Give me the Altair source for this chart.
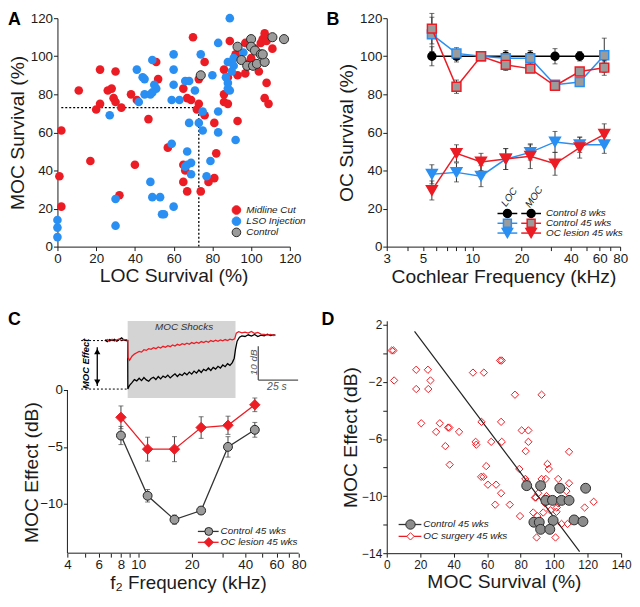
import altair as alt
import pandas as pd

RED = "#ec1c24"
BLUE = "#2a8ff2"
GRAY = "#9b9b9b"
INK = "#1b1b1b"
FONT = "Liberation Sans"

# ---------------- Panel A: LOC vs MOC survival ----------------
a_mid_loc = [70, 22, 30, 51, 52, 11, 26, 28, 29, 30, 22, 20, 33, 38, 41, 47, 2, 1, 2, 17, 40, 32, 57, 65, 67,
             69, 73, 72, 76, 76, 73, 65, 66, 65, 67, 74, 78, 81, 82, 81, 86, 86, 88, 86, 89, 92, 93, 93, 97, 98,
             97, 104, 108, 107, 109, 111, 106, 107, 105, 108, 102, 100, 88]
a_mid_moc = [110, 93, 92, 97, 88, 82, 82, 83, 78, 76, 75, 72, 73, 80, 77, 67, 61, 37, 21, 45, 43, 27, 52, 83, 78,
             77, 75, 72, 69, 97, 88, 43, 40, 34, 29, 29, 34, 36, 49, 65, 80, 76, 75, 93, 108, 101, 90, 66, 91, 96,
             107, 92, 86, 78, 75, 104, 109, 112, 107, 108, 104, 99, 89]
a_lso_loc = [89, 83, 74, 60, 49, 41, 44, 45, 50, 51, 49, 45, 48, 42, 27, 60, 60, 59, 63, 66, 68, 71, 75, 73, 68,
             75, 59, 67, 69, 67, 66, 69, 77, 79, 83, 83, 80, 87, 88, 88, 89, 88, 91, 91, 92, 48, 49, 53, 54, 55,
             60, 30, 30, 0, 0, 0, 96, 90]
a_lso_moc = [120, 107, 101, 101, 98, 93, 89, 88, 85, 83, 81, 80, 80, 76, 69, 93, 85, 77, 77, 87, 87, 82, 71, 65, 65,
             61, 54, 50, 44, 43, 42, 38, 37, 45, 60, 71, 90, 89, 86, 83, 82, 97, 95, 99, 56, 34, 26, 26, 17, 17,
             21, 25, 11, 14, 10, 5, 102, 92]
a_ctl_loc = [74, 93, 100, 100, 102, 105, 95, 98, 101, 103, 107, 111, 117, 106]
a_ctl_moc = [90, 105, 109, 105, 103, 101, 98, 95, 95, 96, 97, 110, 109, 101]
a_mean_loc = 73
a_mean_moc = 73
a_legend = ["Midline Cut", "LSO Injection", "Control"]

# ---------------- Panel B: OC survival vs cochlear frequency ----------------
b_freq = [5.66, 8, 11.3, 16, 22.6, 32, 45.3, 64]
b_ctl8 = [100, 100, 100, 100, 100, 100, 100, 100]
b_ctl8_err = [5, 3, 2, 3, 3, 4, 2.5, 3]
b_c45_loc = [111.5, 101.5, 100, 99, 99, 85, 86.5, 100.5]
b_c45_loc_err = [9, 3, 2, 3, 3, 2, 2, 9]
b_c45_moc = [114.5, 84, 100, 95.5, 93.5, 84.5, 92, 94]
b_c45_moc_err = [8, 3.5, 2, 3, 2, 2.5, 2, 4]
b_les_loc = [38, 39, 37, 46, 49.5, 55, 53.5, 53.5]
b_les_loc_err = [5, 5, 5.5, 5.5, 4, 5.5, 4, 4.5]
b_les_moc = [29.5, 49, 44.5, 46, 47.5, 43.5, 52, 59]
b_les_moc_err = [5, 4.5, 4.5, 5.5, 6.5, 6, 5.5, 5.5]
b_legend = ["Control 8 wks", "Control 45 wks", "OC lesion 45 wks"]

# ---------------- Panel C: MOC effect vs f2 ----------------
c_freq = [8, 11.3, 16, 22.6, 32, 45.3]
c_ctl = [-4.0, -9.3, -11.4, -10.6, -5.0, -3.5]
c_ctl_err = [0.8, 0.55, 0.4, 0.3, 0.9, 0.65]
c_les = [-2.4, -5.2, -5.2, -3.3, -3.1, -1.3]
c_les_err = [1.0, 1.05, 1.1, 0.95, 0.8, 0.6]
c_legend = ["Control 45 wks", "OC lesion 45 wks"]

# inset traces (time in s, level in dB re pre-shock baseline)
tr_black_t = [0, 1.5, 3, 4.5, 6, 7.5, 9, 10.5, 12, 13.5, 14.3, 14.4, 15.5, 17, 18.5, 20, 21.5, 23, 24.5, 26, 27.5,
              29, 30.5, 32, 33.5, 35, 36.5, 38, 39.5, 41, 42.5, 44, 45.5, 47, 48.5, 50, 51.5, 53, 54.5, 56, 57.5,
              59, 60.5, 62, 63.5, 65, 66.5, 68, 69.5, 71, 72.5, 74, 75.5, 77, 78.5, 80, 81.2, 82, 83, 84.5, 86,
              88, 90, 92, 94, 96, 98, 100, 102, 104, 106, 107]
tr_black_db = [0.2, -0.3, 0.3, 0, 0.4, -0.2, 0.3, 0.8, 0.1, 0.2, 0, -14.3, -13.2, -12.4, -11.5, -11.9, -11.1, -11.8,
               -10.9, -11.6, -12.0, -11.2, -10.8, -11.5, -10.6, -11.3, -10.5, -10.9, -10.2, -11.0, -10.4, -9.8,
               -10.6, -9.9, -10.3, -9.5, -10.1, -9.3, -9.9, -9.0, -9.6, -8.7, -9.4, -8.5, -8.9, -8.1, -8.8, -7.9,
               -8.4, -7.6, -8.1, -7.2, -7.7, -6.8, -7.3, -6.5, -5.2, -2.5, -0.2, 1.0, 1.4, 1.2, 1.7, 1.3, 1.8, 1.2,
               1.6, 1.4, 1.9, 1.5, 1.7, 1.6]
tr_red_t = [0, 1.5, 3, 4.5, 6, 7.5, 9, 10.5, 12, 13.5, 14.3, 14.5, 15.5, 17, 18.5, 20, 21.5, 23, 24.5, 26, 27.5, 29,
            30.5, 32, 33.5, 35, 36.5, 38, 39.5, 41, 42.5, 44, 45.5, 47, 48.5, 50, 51.5, 53, 54.5, 56, 57.5, 59,
            60.5, 62, 63.5, 65, 66.5, 68, 69.5, 71, 72.5, 74, 75.5, 77, 78.5, 80, 81.5, 82.5, 84, 86, 88, 90, 92,
            94, 96, 98, 100, 102, 104, 106, 107]
tr_red_db = [0, 0.3, -0.2, 0.4, -0.1, 0.2, 0.5, 0, 0.3, -0.1, 0, -5.0, -5.8, -4.6, -4.0, -3.6, -3.2, -3.4, -2.7,
             -2.9, -2.4, -2.6, -2.1, -2.4, -1.9, -2.2, -1.7, -2.0, -1.5, -1.8, -1.3, -1.6, -1.1, -1.4, -0.9, -1.2,
             -0.8, -1.1, -0.6, -0.9, -0.5, -0.8, -0.3, -0.6, -0.2, -0.5, 0, -0.3, 0.1, -0.2, 0.2, -0.1, 0.3, 0,
             0.4, 0.2, 0.5, 2.2, 2.6, 2.3, 2.5, 2.2, 2.7, 2.1, 2.4, 1.9, 1.8, 1.6, 1.8, 1.5, 1.6]
shock_on, shock_off = 14.3, 82.0
moc_effect_db = -14.3
scale_db, scale_s = 10, 25

# ---------------- Panel D: MOC effect vs MOC survival ----------------
d_surg_x = [3, 4, 4.4, 17.6, 24.6, 26.1, 17.6, 24.8, 20.6, 31.7, 29.5, 36.6, 37.4, 43.2, 35, 37.6, 51.5, 58, 67.7,
            68.7, 53.1, 53.5, 56.6, 68.3, 62.4, 68.7, 59.4, 56.4, 57.8, 60.4, 65.3, 68.3, 64.8, 73.5, 76.6, 92.5,
            80.6, 84.6, 84.6, 83, 79.2, 82.8, 83.6, 79.6, 88.5, 89.1, 90.5, 92.5, 95, 96, 96.8, 102.4, 108.9,
            108.9, 87.5, 89.9, 93.5, 97.8, 101.6, 102.4, 104.9, 101.4, 104.4, 108, 89.5, 100.8, 118.2, 123.6,
            95.4, 94.5, 107.3]
d_surg_y = [0.2, 0.2, -1.9, -1.15, -1.15, -1.9, -2.5, -2.5, -4.9, -4.9, -5.5, -5.2, -5.2, -5.5, -6.5, -7.8,
            -1.35, -1.35, -0.5, -0.5, -6.2, -6.4, -4.8, -4.8, -6.2, -6.2, -7.9, -8.65, -8.65, -9.2, -9.2, -9.8,
            -10.6, -10.6, -2.9, -2.9, -5.4, -5.4, -6.2, -6.85, -8.1, -8.8, -9.0, -11.4, -10.1, -10.1, -9.8, -8.8,
            -8.8, -7.75, -8.1, -8.8, -9.1, -6.9, -11.15, -11.4, -11.15, -11.0, -10.8, -10.5, -10.35, -11.1,
            -11.95, -11.95, -12.9, -12.9, -10.8, -10.4, -10.0, -10.5, -9.65]
d_ctl_x = [83.6, 91.9, 103.4, 118.8, 95, 99, 104.4, 108.9, 87.9, 91.1, 99.4, 111.9, 117.2, 91.9, 97.4]
d_ctl_y = [-9.27, -9.27, -9.45, -9.45, -10.3, -10.3, -10.3, -10.3, -11.83, -11.83, -11.71, -11.67, -11.78,
           -12.33, -12.33]
d_fit_x = [16.6, 115.2]
d_fit_y = [1.54, -13.89]
d_legend = ["Control 45 wks", "OC surgery 45 wks"]

ONE = pd.DataFrame({"k": [0]})


def label(text, x, y, size=10, style="italic", weight="normal", color=INK, angle=None, align="left",
          baseline="middle"):
    kw = dict(text=text, fontSize=size, fontStyle=style, fontWeight=weight, color=color, align=align,
              baseline=baseline, font=FONT)
    if angle is not None:
        kw["angle"] = angle
    return alt.Chart(ONE).mark_text(**kw).encode(x=alt.value(x), y=alt.value(y))


def seg(x1, x2, y, color, width=1.5):
    return alt.Chart(ONE).mark_rule(color=color, strokeWidth=width).encode(
        x=alt.value(x1), x2=alt.value(x2), y=alt.value(y))


def sym(x, y, shape, size, fill, stroke, sw=1.0):
    return alt.Chart(ONE).mark_point(shape=shape, size=size, filled=True, fill=fill, stroke=stroke,
                                     strokeWidth=sw, opacity=1).encode(x=alt.value(x), y=alt.value(y))


def letter(ch, x, y):
    return label(ch, x, y, size=18, style="normal", weight="bold", color="black", baseline="top")


def err_df(f, v, e):
    return pd.DataFrame({"f": f, "v": v, "lo": [a - b for a, b in zip(v, e)], "hi": [a + b for a, b in zip(v, e)]})


# ======================= Panel A =======================
sA = alt.Scale(domain=[0, 120], nice=False, zero=False)
axAx = alt.Axis(values=list(range(0, 121, 20)), title="LOC Survival (%)", titlePadding=2)
axAy = alt.Axis(values=list(range(0, 121, 20)), title="MOC Survival (%)", titleX=-34, titleBaseline="alphabetic")


def AX(f):
    return alt.X(f, type="quantitative", scale=sA, axis=axAx)


def AY(f):
    return alt.Y(f, type="quantitative", scale=sA, axis=axAy)


thrA = pd.DataFrame({"x0": [2], "y0": [0], "m": [a_mean_loc], "n": [a_mean_moc]})
A_layers = [
    alt.Chart(thrA).mark_rule(color="black", strokeDash=[2, 2], strokeWidth=1.3).encode(
        x=AX("x0"), x2="m", y=AY("n")),
    alt.Chart(thrA).mark_rule(color="black", strokeDash=[2, 2], strokeWidth=1.3).encode(
        x=AX("m"), y=AY("y0"), y2="n"),
    alt.Chart(pd.DataFrame({"x": a_mid_loc, "y": a_mid_moc})).mark_circle(size=76, color=RED, opacity=1).encode(
        x=AX("x"), y=AY("y")),
    alt.Chart(pd.DataFrame({"x": a_lso_loc, "y": a_lso_moc})).mark_circle(size=76, color=BLUE, opacity=1).encode(
        x=AX("x"), y=AY("y")),
    alt.Chart(pd.DataFrame({"x": a_ctl_loc, "y": a_ctl_moc})).mark_point(
        shape="circle", size=85, filled=True, fill=GRAY, stroke="#2a2a2a", strokeWidth=1, opacity=1).encode(
        x=AX("x"), y=AY("y")),
]
legA = [(RED, None), (BLUE, None), (GRAY, "#2a2a2a")]
for i, (txt, (fc, sc)) in enumerate(zip(a_legend, legA)):
    y = 194 + i * 11.3
    A_layers.append(sym(181, y, "circle", 76, fc, sc if sc else fc, 1))
    A_layers.append(label(txt, 191, y))
A_layers.append(letter("A", -50, -7))
A = alt.layer(*A_layers).properties(width=235, height=231)

# ======================= Panel B =======================
sBx = alt.Scale(type="log", domain=[3, 80], nice=False)
sBy = alt.Scale(domain=[0, 120], nice=False, zero=False)
axBx = alt.Axis(values=[3, 4, 5, 6, 7, 8, 9, 10, 20, 30, 40, 50, 60, 70, 80],
                labelExpr="indexof([3,5,10,20,40,60,80], datum.value) >= 0 ? format(datum.value, 'd') : ''",
                title="Cochlear Frequency (kHz)", titlePadding=3)
axBy = alt.Axis(values=list(range(0, 121, 20)), title="OC Survival (%)", titleX=-35, titleBaseline="alphabetic")


def BX(f):
    return alt.X(f, type="quantitative", scale=sBx, axis=axBx)


def BY(f):
    return alt.Y(f, type="quantitative", scale=sBy, axis=axBy)


b_series = [
    (b_ctl8, b_ctl8_err, "black", "circle", 64, "black", "black"),
    (b_c45_loc, b_c45_loc_err, BLUE, "square", 81, GRAY, BLUE),
    (b_c45_moc, b_c45_moc_err, RED, "square", 81, GRAY, RED),
    (b_les_loc, b_les_loc_err, BLUE, "triangle-down", 120, BLUE, BLUE),
    (b_les_moc, b_les_moc_err, RED, "triangle-down", 120, RED, RED),
]
B_layers = []
for v, e, lc, shp, sz, fc, sc in b_series:
    d = err_df(b_freq, v, e)
    B_layers.append(alt.Chart(d).mark_rule(color="#333333", strokeWidth=1).encode(x=BX("f"), y=BY("lo"), y2="hi"))
    for col in ("lo", "hi"):
        B_layers.append(alt.Chart(d).mark_tick(color="#333333", orient="horizontal", size=5, thickness=1).encode(
            x=BX("f"), y=BY(col)))
for v, e, lc, shp, sz, fc, sc in b_series:
    d = err_df(b_freq, v, e)
    B_layers.append(alt.Chart(d).mark_line(color=lc, strokeWidth=1.5).encode(x=BX("f"), y=BY("v")))
    B_layers.append(alt.Chart(d).mark_point(shape=shp, size=sz, filled=True, fill=fc, stroke=sc,
                                            strokeWidth=1.5, opacity=1).encode(x=BX("f"), y=BY("v")))
legB = [("black", "circle", 64, "black", "black", "black", "circle", 64, "black", "black"),
        (BLUE, "square", 64, GRAY, BLUE, RED, "square", 64, GRAY, RED),
        (BLUE, "triangle-down", 110, BLUE, BLUE, RED, "triangle-down", 110, RED, RED)]
for i, (txt, row) in enumerate(zip(b_legend, legB)):
    y = 197.5 + i * 9.9
    lc1, s1, z1, f1, k1, lc2, s2, z2, f2, k2 = row
    B_layers += [seg(112, 132, y, lc1), seg(136, 156, y, lc2),
                 sym(122, y, s1, z1, f1, k1, 1.5), sym(146, y, s2, z2, f2, k2, 1.5),
                 label(txt, 161, y)]
B_layers += [label("LOC", 124, 181, angle=305, align="center"), label("MOC", 149, 181, angle=305, align="center")]
B_layers.append(letter("B", -61, -7))
B = alt.layer(*B_layers).properties(width=236, height=231)

# ======================= Panel C =======================
C_XDOM = [3.515, 80]
C_YDOM = [-14.35, 6.09]
sCx = alt.Scale(type="log", domain=C_XDOM, nice=False)
sCy = alt.Scale(domain=C_YDOM, nice=False, zero=False)
axCx = alt.Axis(values=[4, 5, 6, 7, 8, 9, 10, 20, 30, 40, 50, 60, 70, 80], domain=False,
                labelExpr="indexof([4,6,8,10,20,40,60,80], datum.value) >= 0 ? format(datum.value, 'd') : ''",
                title="f\u2082 Frequency (kHz)", titlePadding=2, titleX=132, titleFontSize=19)
axCy = alt.Axis(values=[0, -5, -10], domain=False, offset=-10, title="MOC Effect (dB)", titleX=-30, titleY=153,
                titleBaseline="alphabetic")


def CX(f):
    return alt.X(f, type="quantitative", scale=sCx, axis=axCx)


def CY(f):
    return alt.Y(f, type="quantitative", scale=sCy, axis=axCy)


axis_lines = pd.DataFrame({"x0": [4], "x1": [80], "y0": [0], "y1": [C_YDOM[0]]})
C_main = [
    alt.Chart(axis_lines).mark_rule(color=INK, strokeWidth=1).encode(x=CX("x0"), y=CY("y0"), y2="y1"),
    alt.Chart(axis_lines).mark_rule(color=INK, strokeWidth=1).encode(x=CX("x0"), x2="x1", y=CY("y1")),
]
c_series = [(c_ctl, c_ctl_err, "#333333", "circle", 81, GRAY, "#222222"),
            (c_les, c_les_err, RED, "diamond", 110, RED, RED)]
for v, e, lc, shp, sz, fc, sc in c_series:
    d = err_df(c_freq, v, e)
    C_main.append(alt.Chart(d).mark_rule(color="#444444", strokeWidth=1).encode(x=CX("f"), y=CY("lo"), y2="hi"))
    for col in ("lo", "hi"):
        C_main.append(alt.Chart(d).mark_tick(color="#444444", orient="horizontal", size=5, thickness=1).encode(
            x=CX("f"), y=CY(col)))
for v, e, lc, shp, sz, fc, sc in c_series:
    d = err_df(c_freq, v, e)
    C_main.append(alt.Chart(d).mark_line(color=lc, strokeWidth=1.3).encode(x=CX("f"), y=CY("v")))
    C_main.append(alt.Chart(d).mark_point(shape=shp, size=sz, filled=True, fill=fc, stroke=sc, strokeWidth=1,
                                          opacity=1).encode(x=CX("f"), y=CY("v")))
for i, (txt, (v, e, lc, shp, sz, fc, sc)) in enumerate(zip(c_legend, c_series)):
    y = 213 + i * 11
    C_main += [seg(142, 163, y, lc, 1.3), sym(153, y, shp, 64 if shp == "circle" else 90, fc, sc, 1),
               label(txt, 165, y)]
C_main.append(letter("C", -50, -10))

I_TDOM = [-29.8, 121.7]
I_DBDOM = [-62.68, 5.83]
sIx = alt.Scale(domain=I_TDOM, nice=False, zero=False)
sIy = alt.Scale(domain=I_DBDOM, nice=False, zero=False)


def IX(f):
    return alt.X(f, type="quantitative", scale=sIx, axis=None)


def IY(f):
    return alt.Y(f, type="quantitative", scale=sIy, axis=None)


shock = pd.DataFrame({"t0": [shock_on], "t1": [shock_off], "d0": [-16.9], "d1": [5.8]})
dots = pd.DataFrame({"t0": [-14.9, -14.9], "t1": [shock_on, shock_on], "d": [0, moc_effect_db]})
arrow = pd.DataFrame({"t": [-4.8], "d0": [-2.0], "d1": [-13.4]})
heads = pd.DataFrame({"t": [-4.8, -4.8], "d": [-3.2, -12.3], "s": ["triangle-up", "triangle-down"]})
sb_t, sb_d = 96.3, -11.66
scalebar = pd.DataFrame({"t0": [sb_t, sb_t], "t1": [sb_t, sb_t + scale_s], "d0": [sb_d, sb_d],
                         "d1": [sb_d + scale_db, sb_d]})
C_inset = [
    alt.Chart(shock).mark_rect(color="#d4d4d4").encode(x=IX("t0"), x2="t1", y=IY("d0"), y2="d1"),
    alt.Chart(pd.DataFrame({"t": tr_black_t, "d": tr_black_db})).mark_line(color="black", strokeWidth=1.3).encode(
        x=IX("t"), y=IY("d")),
    alt.Chart(pd.DataFrame({"t": tr_red_t, "d": tr_red_db})).mark_line(color=RED, strokeWidth=1.3).encode(
        x=IX("t"), y=IY("d")),
    alt.Chart(dots).mark_rule(color="black", strokeDash=[2, 2], strokeWidth=1).encode(
        x=IX("t0"), x2="t1", y=IY("d")),
    alt.Chart(arrow).mark_rule(color="black", strokeWidth=1.3).encode(x=IX("t"), y=IY("d0"), y2="d1"),
    alt.Chart(heads).mark_point(filled=True, color="black", size=40, opacity=1).encode(
        x=IX("t"), y=IY("d"), shape=alt.Shape("s:N", scale=None, legend=None)),
    alt.Chart(scalebar).mark_rule(color="#555555", strokeWidth=1.3).encode(
        x=IX("t0"), x2="t1", y=IY("d0"), y2="d1"),
    alt.Chart(pd.DataFrame({"t": [49.7], "d": [4.1], "s": ["MOC Shocks"]})).mark_text(
        fontSize=10, fontStyle="italic", color="#333333", font=FONT).encode(x=IX("t"), y=IY("d"), text="s:N"),
    alt.Chart(pd.DataFrame({"t": [-11.6], "d": [-6.85], "s": ["MOC Effect"]})).mark_text(
        fontSize=9.5, fontStyle="italic", fontWeight="bold", angle=270, color="black", font=FONT).encode(
        x=IX("t"), y=IY("d"), text="s:N"),
    alt.Chart(pd.DataFrame({"t": [93.5], "d": [-6.4], "s": ["%d dB" % scale_db]})).mark_text(
        fontSize=10, fontStyle="italic", angle=270, color="#555555", font=FONT).encode(
        x=IX("t"), y=IY("d"), text="s:N"),
    alt.Chart(pd.DataFrame({"t": [108], "d": [-13.7], "s": ["%d s" % scale_s]})).mark_text(
        fontSize=10.5, fontStyle="italic", color="#555555", font=FONT).encode(x=IX("t"), y=IY("d"), text="s:N"),
]
C = alt.layer(alt.layer(*C_main), alt.layer(*C_inset)).resolve_scale(
    x="independent", y="independent").properties(width=244, height=235)

# ======================= Panel D =======================
sDx = alt.Scale(domain=[0, 140], nice=False, zero=False)
sDy = alt.Scale(domain=[-14, 2.28], nice=False, zero=False)
axDx = alt.Axis(values=list(range(0, 141, 20)), title="MOC Survival (%)", titlePadding=2.5, labelFontSize=12,
                labelPadding=2)
axDy = alt.Axis(values=list(range(-14, 3, 2)), labelExpr="datum.value % 4 != 0 ? datum.label : ''",
                title="MOC Effect (dB)", titleX=-31, titleBaseline="alphabetic", labelFontSize=12)


def DX(f):
    return alt.X(f, type="quantitative", scale=sDx, axis=axDx)


def DY(f):
    return alt.Y(f, type="quantitative", scale=sDy, axis=axDy)


D_layers = [
    alt.Chart(pd.DataFrame({"x": d_surg_x, "y": d_surg_y})).mark_point(
        shape="diamond", size=55, filled=False, stroke=RED, strokeWidth=1, opacity=1).encode(x=DX("x"), y=DY("y")),
    alt.Chart(pd.DataFrame({"x": d_fit_x, "y": d_fit_y})).mark_line(color="#222222", strokeWidth=1.2).encode(
        x=DX("x"), y=DY("y")),
    alt.Chart(pd.DataFrame({"x": d_ctl_x, "y": d_ctl_y})).mark_point(
        shape="circle", size=100, filled=True, fill="#8c8c8c", stroke="#2a2a2a", strokeWidth=1, opacity=1).encode(
        x=DX("x"), y=DY("y")),
]
legD = [("#333333", "circle", 90, "#8c8c8c", "#2a2a2a"), (RED, "diamond", 55, "white", RED)]
for i, (txt, (lc, shp, sz, fc, sc)) in enumerate(zip(d_legend, legD)):
    y = 206 + i * 12
    D_layers += [seg(12, 35, y, lc, 1.3), sym(24, y, shp, sz, fc, sc, 1), label(txt, 37, y)]
D_layers.append(letter("D", -66, -10))
D = alt.layer(*D_layers).properties(width=237, height=235)

chart = alt.concat(A, B, C, D, columns=2, spacing={"row": 75, "column": 89}, bounds="flush",
                   align="each").properties(padding=0).configure(font=FONT).configure_view(
    strokeWidth=0).configure_axis(
    labelFont=FONT, titleFont=FONT, labelFontSize=13.5, titleFontSize=19.5, titleFontWeight="normal",
    labelColor=INK, titleColor=INK, domainColor=INK, tickColor=INK, tickSize=4, labelPadding=1,
    grid=False, labelFlush=False, labelOverlap=False, domainWidth=1, tickWidth=1)

chart.save("out.html", embed_options={"renderer": "svg", "actions": False})
